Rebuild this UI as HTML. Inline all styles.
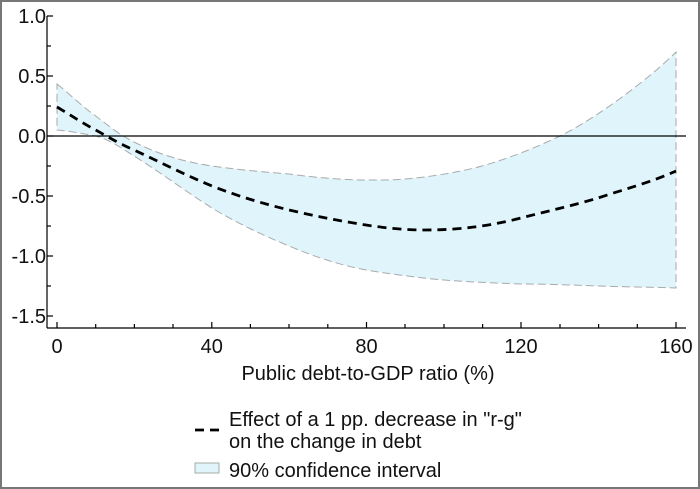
<!DOCTYPE html>
<html><head><style>
html,body{margin:0;padding:0;background:#fff}
body{width:700px;height:489px;overflow:hidden}
svg{display:block}
text{font-family:"Liberation Sans",sans-serif;font-size:20px;fill:#111}
</style></head><body>
<svg width="700" height="489" viewBox="0 0 700 489">
<rect x="1" y="1" width="698" height="487" fill="#fff" stroke="#777" stroke-width="2"/>
<path d="M57,84 C72,96 84,108 95.7,116 C110,127 120,135 134,142 C160,155 185,162 212,166 C240,170 265,172 289,174 C320,178 345,180 366,180 C380,180 395,180 405,179 C430,177 460,172 482,166 C510,158 535,148 560,136 C580,126 600,113 618,100 C640,84 660,68 676,52 L676,288 C650,287 625,287 598,286 C570,285 545,284 521,284 C495,283 470,282 444,280 C420,278 390,274 366,270 C340,265 315,257 289,246 C260,234 235,222 212,208 C185,191 160,172 134,156 C120,147 108,139 95.7,136 C80,133 68,131 57,130 Z" fill="#dff4fb" stroke="#aaa" stroke-width="1" stroke-dasharray="8,4"/>
<line x1="47" y1="136" x2="686" y2="136" stroke="#000" stroke-width="1.3"/>
<path d="M57,107 C72,116 84,124 95.7,130 C110,138 120,144 134,150 C160,162 185,175 212,186 C240,197 265,204 289,210 C315,216 340,221 366,225 C385,228 405,230 424,230 C460,230 490,226 521,218 C548,211 575,205 598,198 C625,189 652,182 676,171" fill="none" stroke="#000" stroke-width="2.8" stroke-dasharray="9,6"/>
<g stroke="#000" stroke-width="1.2">
<line x1="47" y1="16" x2="47" y2="328"/>
<line x1="47" y1="328" x2="686" y2="328"/>
<line x1="47" y1="16" x2="53" y2="16"/><line x1="47" y1="46" x2="51" y2="46"/>
<line x1="47" y1="76" x2="53" y2="76"/><line x1="47" y1="106" x2="51" y2="106"/>
<line x1="47" y1="136" x2="53" y2="136"/><line x1="47" y1="166" x2="51" y2="166"/>
<line x1="47" y1="196" x2="53" y2="196"/><line x1="47" y1="226" x2="51" y2="226"/>
<line x1="47" y1="256" x2="53" y2="256"/><line x1="47" y1="286" x2="51" y2="286"/>
<line x1="47" y1="316" x2="53" y2="316"/>
<line x1="57" y1="328" x2="57" y2="322"/><line x1="95.7" y1="328" x2="95.7" y2="324"/>
<line x1="134.4" y1="328" x2="134.4" y2="324"/><line x1="173" y1="328" x2="173" y2="324"/>
<line x1="211.8" y1="328" x2="211.8" y2="322"/><line x1="250.4" y1="328" x2="250.4" y2="324"/>
<line x1="289" y1="328" x2="289" y2="324"/><line x1="327.8" y1="328" x2="327.8" y2="324"/>
<line x1="366.5" y1="328" x2="366.5" y2="322"/><line x1="405" y1="328" x2="405" y2="324"/>
<line x1="444" y1="328" x2="444" y2="324"/><line x1="482.6" y1="328" x2="482.6" y2="324"/>
<line x1="521" y1="328" x2="521" y2="322"/><line x1="560" y1="328" x2="560" y2="324"/>
<line x1="598.6" y1="328" x2="598.6" y2="324"/><line x1="637.3" y1="328" x2="637.3" y2="324"/>
<line x1="676" y1="328" x2="676" y2="322"/>
</g>
<g text-anchor="end">
<text x="46" y="23">1.0</text><text x="46" y="83">0.5</text><text x="46" y="143">0.0</text>
<text x="46" y="203">-0.5</text><text x="46" y="263">-1.0</text><text x="46" y="323">-1.5</text>
</g>
<g text-anchor="middle">
<text x="57" y="353">0</text><text x="211.8" y="353">40</text><text x="366.5" y="353">80</text>
<text x="521" y="353">120</text><text x="676" y="353">160</text>
<text x="368" y="380">Public debt-to-GDP ratio (%)</text>
</g>
<line x1="195" y1="430" x2="220" y2="430" stroke="#000" stroke-width="2.8" stroke-dasharray="9,6"/>
<text x="229" y="426">Effect of a 1 pp. decrease in "r-g"</text>
<text x="229" y="448">on the change in debt</text>
<rect x="195" y="463" width="24" height="10" fill="#dff4fb" stroke="#aaa" stroke-width="1"/>
<text x="229" y="477">90% confidence interval</text>
</svg>
</body></html>
